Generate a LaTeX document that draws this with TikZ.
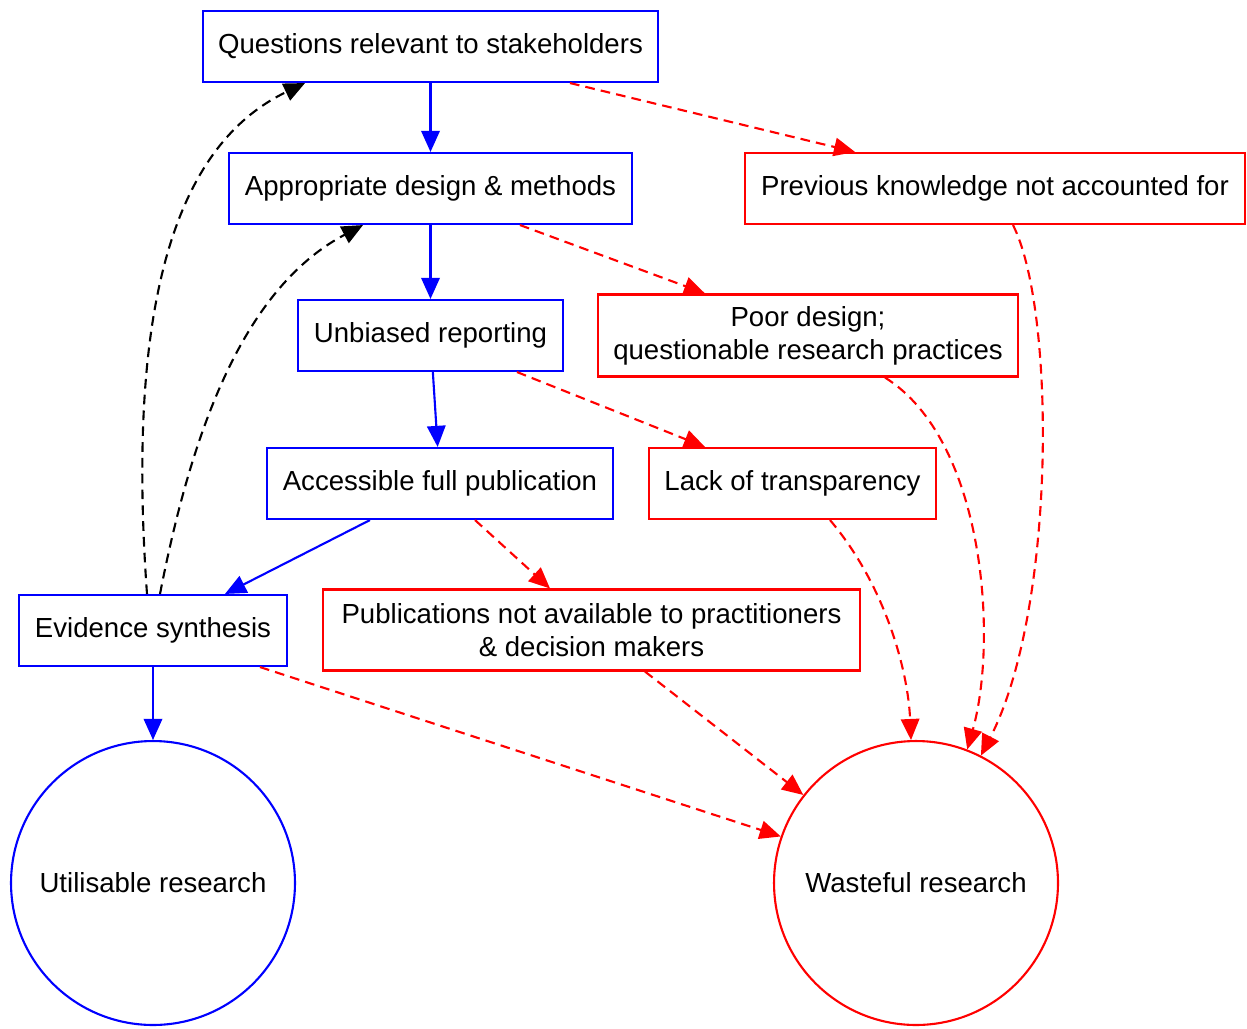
\documentclass[tikz,border=0pt]{standalone}
\usepackage{fontspec}
\setmainfont{Liberation Sans}
\usepackage{tikz}
\usetikzlibrary{positioning, arrows.meta, calc}
\definecolor{goodline}{HTML}{0000FF}
\definecolor{wasteline}{HTML}{FF0000}

\begin{document}
\begin{tikzpicture}[x=0.02cm,y=-0.02cm,font=\fontsize{15.7}{18.7}\selectfont,
 bx/.style={draw, rectangle, line width=1.2pt, minimum height=1.42cm, inner sep=4pt, align=center},
 gd/.style={bx, draw=goodline},
 bd/.style={bx, draw=wasteline},
 rnd/.style={circle, line width=1.2pt, minimum size=5.68cm, inner sep=0pt},
 tip/.style={-{Triangle[length=12pt,width=10.5pt]}, line width=1.2pt},
 dsh/.style={dash pattern=on 5.5pt off 3.5pt}]
\useasboundingbox (0,0) rectangle (1247,1028);

% path to usable research
\node[gd, minimum width=9.1cm] (q) at (430.5,46.5) {Questions relevant to stakeholders};
\node[gd, minimum width=8.06cm] (a) at (430.5,188.5) {Appropriate design \& methods};
\node[gd, minimum width=5.3cm] (u) at (430.5,335.5) {Unbiased reporting};
\node[gd, minimum width=6.92cm] (af) at (440,483.5) {Accessible full publication};
\node[gd, minimum width=5.36cm] (e) at (153,630.5) {Evidence synthesis};
\node[rnd, draw=goodline] (ur) at (153,883) {Utilisable research};

% ways to waste
\node[bd, minimum width=10cm] (p) at (995,188.5) {Previous knowledge not accounted for};
\node[bd, minimum width=8.4cm, minimum height=1.64cm] (pd) at (808,335.5) {Poor design;\\ questionable research practices};
\node[bd, minimum width=5.74cm] (l) at (792.5,483.5) {Lack of transparency};
\node[bd, minimum width=10.74cm, minimum height=1.62cm] (pn) at (591.5,630) {Publications not available to practitioners\\ \& decision makers};
\node[rnd, draw=wasteline] (wr) at (916,883) {Wasteful research};

\draw[tip, goodline] (q) -- (a);
\draw[tip, goodline] (a) -- (u);
\draw[tip, goodline] (u) -- (af);
\draw[tip, goodline] ([xshift=-1.4cm]af.south) -- ([xshift=1.44cm]e.north);
\draw[tip, goodline] (e) -- (ur);

\draw[tip, dsh, wasteline] ([xshift=2.79cm]q.south) -- ([xshift=-2.8cm]p.north);
\draw[tip, dsh, wasteline] ([xshift=1.79cm]a.south) -- ([xshift=-2.06cm]pd.north);
\draw[tip, dsh, wasteline] ([xshift=1.73cm]u.south) -- ([xshift=-1.75cm]l.north);
\draw[tip, dsh, wasteline] ([xshift=0.7cm]af.south) -- ([xshift=-0.83cm]pn.north);
\draw[tip, dsh, wasteline] ([xshift=2.14cm]e.south) -- (wr.161);
\draw[tip, dsh, wasteline] ([xshift=1.07cm]pn.south) -- (wr.142);
\draw[tip, dsh, wasteline] ([xshift=0.75cm]l.south) .. controls (885,585) and (908,670) .. (wr.92);
\draw[tip, dsh, wasteline] ([xshift=1.54cm]pd.south) .. controls (985,440) and (998,640) .. (wr.69);
\draw[tip, dsh, wasteline] ([xshift=0.36cm]p.south) .. controls (1056,310) and (1056,610) .. (wr.63);

% feedback
\draw[tip, dsh] ([xshift=-0.12cm]e.north) .. controls (128,330) and (165,150) .. ([xshift=-2.51cm]q.south);
\draw[tip, dsh] ([xshift=0.14cm]e.north) .. controls (190,440) and (240,290) .. ([xshift=-1.35cm]a.south);

\end{tikzpicture}
\end{document}
